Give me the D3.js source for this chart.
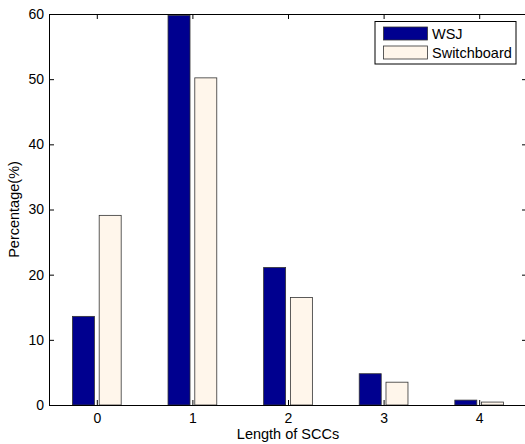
<!DOCTYPE html>
<html>
<head>
<meta charset="utf-8">
<script src="https://cdn.jsdelivr.net/npm/d3@7"></script>
<style>
  body { margin: 0; background: #fff; }
  text { font-family: "Liberation Sans", Arial, sans-serif; }
</style>
</head>
<body>
<svg id="chart" width="525" height="444"></svg>
<script>
const categories = [0, 1, 2, 3, 4];
const wsj = [13.6, 59.8, 21.1, 4.8, 0.75];
const switchboard = [29.1, 50.2, 16.5, 3.5, 0.45];
const yTicks = [0, 10, 20, 30, 40, 50, 60];
const seriesNames = ['WSJ', 'Switchboard'];
const colors = ['#00008f', '#fff6eb'];

const svg = d3.select('#chart');
const margin = { left: 49, top: 14, right: -2, bottom: 39 };
const width = 525, height = 444;

const x = d3.scaleLinear().domain([-0.5, 4.5]).range([margin.left, width - margin.right]);
const y = d3.scaleLinear().domain([0, 60]).range([height - margin.bottom, margin.top]);

const barW = 0.23;
const offsets = [-0.14, 0.14];
const series = [wsj, switchboard];

series.forEach((vals, si) => {
  svg.append('g').selectAll('rect')
    .data(vals)
    .join('rect')
    .attr('x', (d, i) => x(categories[i] + offsets[si] - barW / 2))
    .attr('width', x(barW) - x(0))
    .attr('y', d => y(d))
    .attr('height', d => y(0) - y(d))
    .attr('fill', colors[si])
    .attr('stroke', '#333')
    .attr('stroke-width', 0.8);
});

// axes (MATLAB style box with inward ticks)
const tickLen = 5;
const axB = svg.append('g').attr('transform', `translate(0,${y(0)})`)
  .call(d3.axisBottom(x).tickValues(categories).tickSize(-tickLen).tickPadding(8).tickFormat(d3.format('d')));
const axT = svg.append('g').attr('transform', `translate(0,${y(60)})`)
  .call(d3.axisTop(x).tickValues(categories).tickSize(-tickLen).tickFormat(''));
const axL = svg.append('g').attr('transform', `translate(${x(-0.5)},0)`)
  .call(d3.axisLeft(y).tickValues(yTicks).tickSize(-tickLen).tickPadding(5));
const axR = svg.append('g').attr('transform', `translate(${x(4.5)},0)`)
  .call(d3.axisRight(y).tickValues(yTicks).tickSize(-tickLen).tickFormat(''));

[axB, axT, axL, axR].forEach(g => {
  g.select('.domain').attr('stroke', '#000').attr('stroke-width', 1);
  g.selectAll('.tick line').attr('stroke', '#000');
  g.selectAll('text').attr('font-size', 14).attr('fill', '#000')
    .attr('font-family', '"Liberation Sans", Arial, sans-serif');
});

svg.append('text')
  .attr('x', (x(-0.5) + x(4.5)) / 2)
  .attr('y', 439)
  .attr('text-anchor', 'middle')
  .attr('font-size', 14.5)
  .text('Length of SCCs');

svg.append('text')
  .attr('transform', `translate(19,${(y(0) + y(60)) / 2}) rotate(-90)`)
  .attr('text-anchor', 'middle')
  .attr('font-size', 14.5)
  .text('Percentage(%)');

// legend
const lg = svg.append('g').attr('transform', 'translate(375,21.5)');
lg.append('rect').attr('width', 141).attr('height', 42.5)
  .attr('fill', '#fff').attr('stroke', '#000').attr('stroke-width', 1);
seriesNames.forEach((name, i) => {
  lg.append('rect')
    .attr('x', 8.5).attr('y', 5.5 + i * 19)
    .attr('width', 44).attr('height', 13)
    .attr('fill', colors[i]).attr('stroke', '#333').attr('stroke-width', 0.8);
  lg.append('text')
    .attr('x', 57).attr('y', 12 + i * 19).attr('dy', '0.35em')
    .attr('font-size', 14.5)
    .text(name);
});
</script>
</body>
</html>
